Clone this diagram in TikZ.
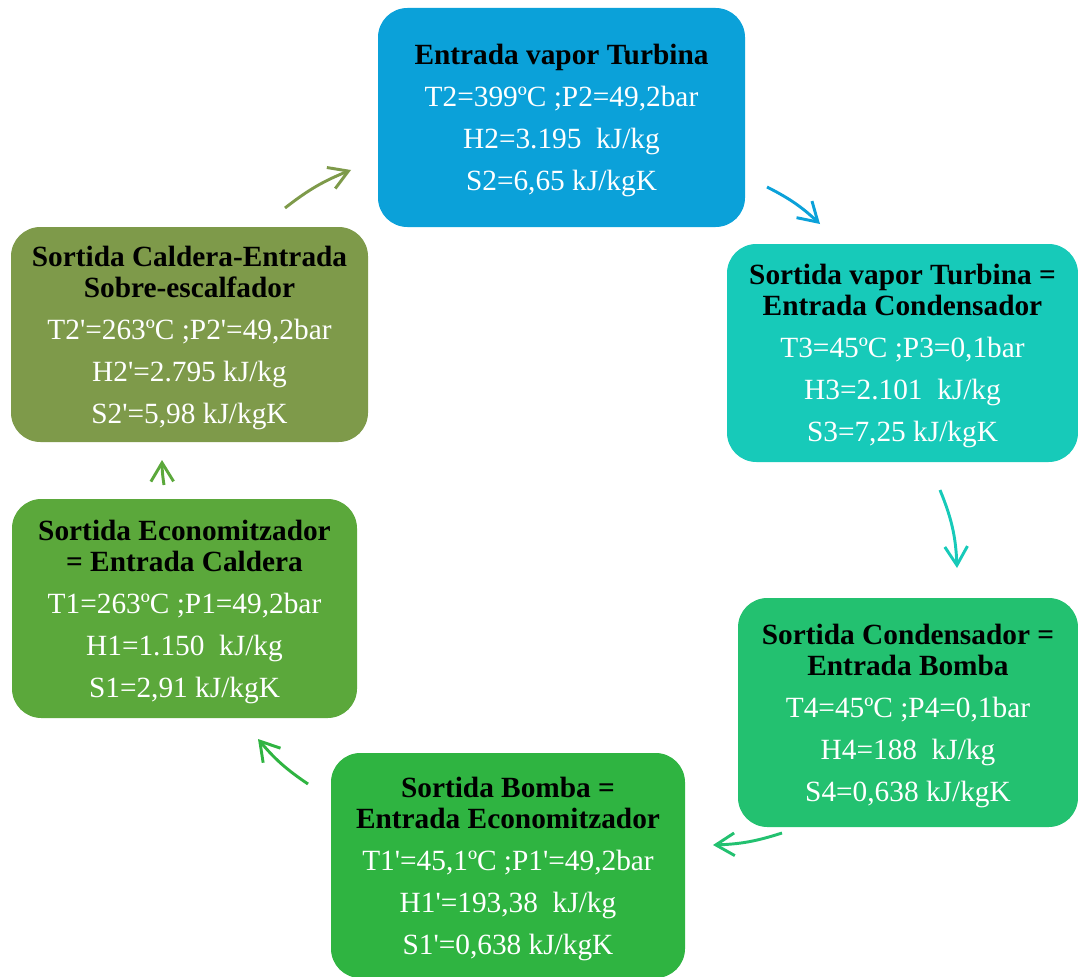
\documentclass[tikz,border=0pt]{standalone}
\usepackage{fontspec}
\setmainfont{Liberation Serif}
\usetikzlibrary{arrows.meta}
\definecolor{cyturb}{HTML}{0BA1D9}
\definecolor{cycond}{HTML}{17CAB9}
\definecolor{cybomba}{HTML}{23C170}
\definecolor{cyecon}{HTML}{2FB441}
\definecolor{cycald}{HTML}{5BA83B}
\definecolor{cysobre}{HTML}{7E9A4A}

\begin{document}
\begin{tikzpicture}[
x=0.75pt,y=-0.75pt,
stage/.style={rounded corners=22pt,inner sep=0pt,align=center,text=white,
text depth=0pt,font=\fontsize{22}{23.25}\selectfont},
arr/.style={-{Straight Barb[length=14pt,width=17pt]},line width=2.2pt}
]
\useasboundingbox (0,0) rectangle (1078,977);

\node[stage,fill=cyturb,minimum width=275.25pt,minimum height=164.25pt] (turb) at (561.5,117.5)
  {\textcolor{black}{\textbf{Entrada vapor Turbina}}\\[8.25pt]
   T2=399ºC ;P2=49,2bar\\[8.25pt] H2=3.195~ kJ/kg\\[8.25pt] S2=6,65 kJ/kgK};
\node[stage,fill=cycond,minimum width=263.25pt,minimum height=163.5pt] (cond) at (902.5,353)
  {\textcolor{black}{\textbf{Sortida vapor Turbina =}}\\ \textcolor{black}{\textbf{Entrada Condensador}}\\[8.25pt]
   T3=45ºC ;P3=0,1bar\\[8.25pt] H3=2.101~ kJ/kg\\[8.25pt] S3=7,25 kJ/kgK};
\node[stage,fill=cybomba,minimum width=255pt,minimum height=171.75pt] (bomba) at (908,712.5)
  {\textcolor{black}{\textbf{Sortida Condensador =}}\\ \textcolor{black}{\textbf{Entrada Bomba}}\\[8.25pt]
   T4=45ºC ;P4=0,1bar\\[8.25pt] H4=188~ kJ/kg\\[8.25pt] S4=0,638 kJ/kgK};
\node[stage,fill=cyecon,minimum width=265.5pt,minimum height=168.75pt] (econ) at (508,865.5)
  {\textcolor{black}{\textbf{Sortida Bomba =}}\\ \textcolor{black}{\textbf{Entrada Economitzador}}\\[8.25pt]
   T1\textquotesingle=45,1ºC ;P1\textquotesingle=49,2bar\\[8.25pt] H1\textquotesingle=193,38~ kJ/kg\\[8.25pt] S1\textquotesingle=0,638 kJ/kgK};
\node[stage,fill=cycald,minimum width=258.75pt,minimum height=164.25pt] (cald) at (184.5,608.5)
  {\textcolor{black}{\textbf{Sortida Economitzador}}\\ \textcolor{black}{\textbf{= Entrada Caldera}}\\[8.25pt]
   T1=263ºC ;P1=49,2bar\\[8.25pt] H1=1.150~ kJ/kg\\[8.25pt] S1=2,91 kJ/kgK};
\node[stage,fill=cysobre,minimum width=267.75pt,minimum height=161.25pt] (sobre) at (189.5,334.5)
  {\textcolor{black}{\textbf{Sortida Caldera-Entrada}}\\ \textcolor{black}{\textbf{Sobre-escalfador}}\\[8.25pt]
   T2\textquotesingle=263ºC ;P2\textquotesingle=49,2bar\\[8.25pt] H2\textquotesingle=2.795 kJ/kg\\[8.25pt] S2\textquotesingle=5,98 kJ/kgK};

% arrow ends around the cycle
\coordinate (a1s) at (285,208);  \coordinate (a1e) at (351,170);
\coordinate (a2s) at (767,187);  \coordinate (a2e) at (820,224);
\coordinate (a3s) at (940,490);  \coordinate (a3e) at (957,568);
\coordinate (a4s) at (782,833);  \coordinate (a4e) at (713,845);
\coordinate (a5s) at (308,784);  \coordinate (a5e) at (258,739);
\coordinate (a6s) at (164,485);  \coordinate (a6e) at (162,460);

\draw[arr,cysobre] (a1s) to[bend left=8] (a1e);
\draw[arr,cyturb]  (a2s) to[bend left=8] (a2e);
\draw[arr,cycond]  (a3s) to[bend left=10] (a3e);
\draw[arr,cybomba] (a4s) to[bend left=8] (a4e);
\draw[arr,cyecon]  (a5s) to[bend left=8] (a5e);
\draw[arr,cycald]  (a6s) to[bend left=4] (a6e);
\end{tikzpicture}
\end{document}
